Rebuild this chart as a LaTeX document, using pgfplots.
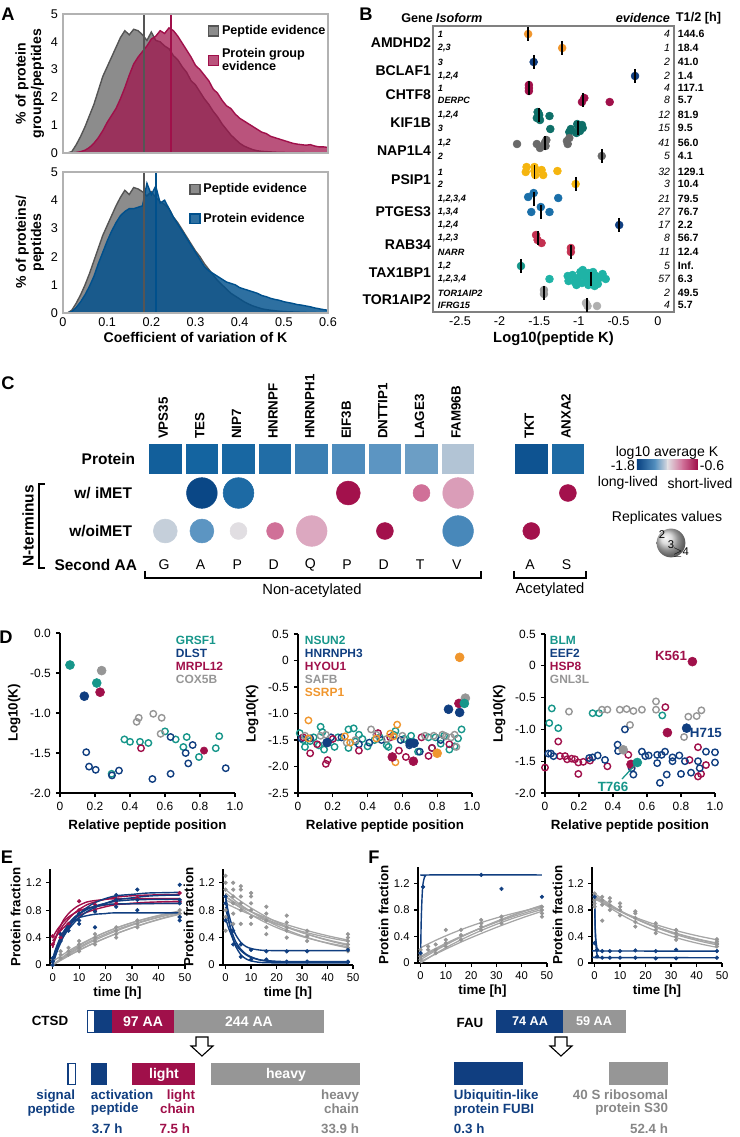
\documentclass[border=0pt]{standalone}
\usepackage{fontspec}
\setmainfont{Liberation Sans}
\usepackage{pgfplots}
\pgfplotsset{compat=1.18}
\newcommand{\fs}[1]{\fontsize{#1}{#1}\selectfont}

\definecolor{pepgray}{RGB}{140,140,140}
\definecolor{pepline}{RGB}{85,85,85}
\definecolor{crim}{RGB}{160,16,74}
\definecolor{blueA}{RGB}{0,80,140}
\definecolor{navy}{RGB}{16,62,128}
\definecolor{tealD}{RGB}{23,150,138}
\definecolor{dteal}{RGB}{14,111,104}
\definecolor{lteal}{RGB}{31,179,166}
\definecolor{orng}{RGB}{240,150,45}
\definecolor{yell}{RGB}{245,181,15}
\definecolor{bluB}{RGB}{26,111,169}
\definecolor{rose}{RGB}{195,48,80}
\definecolor{midgray}{RGB}{150,150,150}
\definecolor{dkgray}{RGB}{105,105,105}
\definecolor{ltgray}{RGB}{175,175,175}
\definecolor{cm0}{RGB}{8,66,130}
\definecolor{cm1}{RGB}{85,145,192}
\definecolor{cm2}{RGB}{225,222,226}
\definecolor{cm3}{RGB}{208,112,152}
\definecolor{cm4}{RGB}{160,12,72}

\pgfplotsset{
  every axis/.append style={/pgf/number format/assume math mode=true},
  dsty/.style={scale only axis, axis x line=bottom, axis y line=left,
    axis line style={line width=0.9pt,-}, tick style={black, line width=0.8pt},
    tick align=outside, major tick length=3pt, xmin=0, xmax=1,
    xtick={0,0.2,0.4,0.6,0.8,1}, xticklabels={0,0.2,0.4,0.6,0.8,1.0},
    ticklabel style={font=\fs{8.5}}, xlabel={Relative peptide position}, ylabel={Log10(K)},
    label style={font=\bfseries\fs{9.5}}, clip=false},
  opn/.style={only marks, mark=o, mark size=2.3pt, mark options={line width=1pt}},
  fil/.style={only marks, mark=*, mark size=3.2pt},
  esty/.style={scale only axis, axis x line=bottom, axis y line=left,
    axis line style={line width=0.9pt,-}, tick style={black, line width=0.8pt},
    tick align=outside, major tick length=2.5pt, xmin=-1, xmax=50, ymin=0, ymax=1.4,
    xtick={0,10,20,30,40,50}, ytick={0,0.4,0.8,1.2}, yticklabels={0,0.4,0.8,1.2},
    ticklabel style={font=\fs{8}}, xlabel={time [h]}, ylabel={Protein fraction},
    label style={font=\bfseries\fs{9.5}}, xlabel style={yshift=3pt}, ylabel style={yshift=-3pt}},
  bl/.style={navy, line width=1pt, smooth, no marks},
  cl/.style={crim, line width=1pt, smooth, no marks},
  gl/.style={midgray!85, line width=0.9pt, smooth, no marks},
  bp/.style={only marks, mark=*, mark size=1.3pt, navy},
  cp/.style={only marks, mark=*, mark size=1.3pt, crim},
  gp/.style={only marks, mark=*, mark size=1.3pt, midgray},
}

\begin{document}
\begin{tikzpicture}
\path[use as bounding box] (0,0) rectangle (185mm,-284.25mm);

% ---------------- A (top)
\begin{axis}[at={(15.75mm,-3.5mm)}, anchor=north west, scale only axis,
  width=66.25mm, height=34.75mm, xmin=0, xmax=0.6, ymin=0, ymax=5,
  axis line style={draw=gray!60, line width=1.8pt}, axis on top,
  xtick=\empty, ytick={0,1,2,3,4,5}, major tick length=0pt,
  yticklabel style={font=\fs{9}},
  ylabel={\% of protein\\groups/peptides},
  ylabel style={font=\bfseries\fontsize{10}{11}\selectfont, align=center, yshift=-2pt},
  legend style={at={(0.53,0.96)}, anchor=north west, draw=none, fill=none,
    font=\bfseries\fontsize{9}{9.5}\selectfont, row sep=4pt, cells={anchor=west, align=left}},
  legend image code/.code={\draw[#1] (0pt,-3.5pt) rectangle (7pt,3.5pt);}]
\addplot[fill=pepgray, draw=pepline, line width=1pt] coordinates {
(0,0) (0.01,0) (0.02,0.05) (0.03,0.3) (0.04,0.6) (0.05,0.95) (0.06,1.35) (0.07,1.75) (0.08,2.25) (0.09,2.75)
(0.10,3.1) (0.11,3.45) (0.12,3.8) (0.13,4.15) (0.14,4.4) (0.15,4.25) (0.16,4.45) (0.17,4.4) (0.18,4.25) (0.19,4.05)
(0.20,4.35) (0.21,4.05) (0.22,4.0) (0.23,3.85) (0.24,3.75) (0.25,3.5) (0.26,3.35) (0.27,3.1) (0.28,2.9) (0.29,2.6)
(0.30,2.45) (0.31,2.2) (0.32,1.95) (0.33,1.75) (0.34,1.5) (0.35,1.3) (0.36,1.05) (0.37,0.85) (0.38,0.65) (0.39,0.5)
(0.40,0.35) (0.41,0.25) (0.42,0.18) (0.43,0.12) (0.44,0.08) (0.45,0.06) (0.46,0.05) (0.48,0.03) (0.50,0.02) (0.55,0.01) (0.60,0)
} \closedcycle;
\addlegendentry{Peptide evidence}
\addplot[fill=crim, fill opacity=0.72, draw=crim, line width=1pt] coordinates {
(0,0) (0.02,0) (0.03,0.02) (0.04,0.05) (0.05,0.1) (0.06,0.2) (0.07,0.35) (0.08,0.55) (0.09,0.8) (0.10,1.1)
(0.11,1.35) (0.12,1.6) (0.13,1.95) (0.14,2.35) (0.15,2.8) (0.16,3.2) (0.17,3.45) (0.18,3.65) (0.19,3.85) (0.20,4.1)
(0.21,4.2) (0.22,4.4) (0.23,4.3) (0.24,4.5) (0.25,4.4) (0.26,4.2) (0.27,3.95) (0.28,3.7) (0.29,3.45) (0.30,3.15)
(0.31,3.0) (0.32,2.8) (0.33,2.6) (0.34,2.3) (0.35,2.15) (0.36,1.9) (0.37,1.7) (0.38,1.6) (0.39,1.4) (0.40,1.25)
(0.41,1.15) (0.42,1.05) (0.43,0.95) (0.44,0.85) (0.45,0.75) (0.46,0.7) (0.47,0.6) (0.48,0.55) (0.49,0.5) (0.50,0.45)
(0.51,0.4) (0.52,0.35) (0.53,0.32) (0.54,0.3) (0.55,0.28) (0.56,0.3) (0.57,0.25) (0.58,0.22) (0.59,0.22) (0.60,0.2)
} \closedcycle;
\addlegendentry{Protein group\\evidence}
\addplot[pepline, line width=1.3pt, forget plot] coordinates {(0.183,0) (0.183,5)};
\addplot[crim, line width=1.3pt, forget plot] coordinates {(0.245,0) (0.245,5)};
\end{axis}

% ---------------- A (bottom)
\begin{axis}[at={(15.75mm,-43mm)}, anchor=north west, scale only axis,
  width=66.25mm, height=35.25mm, xmin=0, xmax=0.6, ymin=0, ymax=5,
  axis line style={draw=gray!60, line width=1.8pt}, axis on top,
  xtick={0,0.1,0.2,0.3,0.4,0.5,0.6}, xticklabels={0,0.1,0.2,0.3,0.4,0.5,0.6},
  ytick={0,1,2,3,4,5}, major tick length=0pt,
  ticklabel style={font=\fs{9}},
  ylabel={\% of proteins/\\peptides},
  ylabel style={font=\bfseries\fontsize{10}{11}\selectfont, align=center, yshift=-2pt},
  xlabel={Coefficient of variation of K},
  xlabel style={font=\bfseries\fs{10}, yshift=3pt},
  legend style={at={(0.46,0.96)}, anchor=north west, draw=none, fill=none,
    font=\bfseries\fs{9}, row sep=9pt, cells={anchor=west}},
  legend image code/.code={\draw[#1] (0pt,-3.5pt) rectangle (7pt,3.5pt);}]
\addplot[fill=pepgray, draw=pepline, line width=1pt] coordinates {
(0,0) (0.01,0) (0.02,0.1) (0.03,0.35) (0.04,0.65) (0.05,1.0) (0.06,1.4) (0.07,1.85) (0.08,2.3) (0.09,2.75)
(0.10,3.1) (0.11,3.45) (0.12,3.8) (0.13,4.1) (0.14,4.35) (0.15,4.2) (0.16,4.45) (0.17,4.4) (0.18,4.3) (0.19,4.15)
(0.20,4.3) (0.21,4.1) (0.22,3.95) (0.23,3.85) (0.24,3.7) (0.25,3.4) (0.26,3.2) (0.27,2.95) (0.28,2.7) (0.29,2.45)
(0.30,2.2) (0.31,2.0) (0.32,1.75) (0.33,1.55) (0.34,1.35) (0.35,1.15) (0.36,1.0) (0.37,0.85) (0.38,0.7) (0.39,0.6)
(0.40,0.5) (0.41,0.4) (0.42,0.32) (0.43,0.25) (0.44,0.2) (0.45,0.15) (0.46,0.12) (0.48,0.08) (0.50,0.05) (0.55,0.02) (0.60,0)
} \closedcycle;
\addlegendentry{Peptide evidence}
\addplot[fill=blueA, fill opacity=0.82, draw=blueA, line width=1pt] coordinates {
(0,0) (0.01,0) (0.02,0.05) (0.03,0.2) (0.04,0.4) (0.05,0.65) (0.06,0.95) (0.07,1.3) (0.08,1.75) (0.09,2.15)
(0.10,2.55) (0.11,2.9) (0.12,3.2) (0.13,3.45) (0.14,3.6) (0.15,3.7) (0.16,3.7) (0.17,3.75) (0.18,3.8) (0.19,4.6)
(0.20,4.2) (0.21,4.5) (0.22,3.9) (0.23,4.0) (0.24,3.7) (0.25,3.4) (0.26,3.15) (0.27,2.9) (0.28,2.65) (0.29,2.4)
(0.30,2.15) (0.31,1.9) (0.32,1.65) (0.33,1.5) (0.34,1.4) (0.35,1.3) (0.36,1.2) (0.37,1.1) (0.38,1.05) (0.39,1.0)
(0.40,0.9) (0.41,0.85) (0.42,0.8) (0.43,0.75) (0.44,0.7) (0.45,0.62) (0.46,0.58) (0.47,0.52) (0.48,0.48) (0.49,0.45)
(0.50,0.4) (0.51,0.37) (0.52,0.34) (0.53,0.3) (0.54,0.28) (0.55,0.25) (0.56,0.22) (0.57,0.18) (0.58,0.15) (0.59,0.12) (0.60,0.1)
} \closedcycle;
\addlegendentry{Protein evidence}
\addplot[pepline, line width=1.3pt, forget plot] coordinates {(0.183,0) (0.183,5)};
\addplot[blueA, line width=1.3pt, forget plot] coordinates {(0.211,0) (0.211,5)};
\end{axis}

% ---------------- B
\begin{axis}[at={(108.25mm,-6.5mm)}, anchor=north west, scale only axis,
  width=60.25mm, height=71.5mm, xmin=-2.841, xmax=0.202, ymin=26, ymax=312, y dir=reverse,
  axis line style={draw=gray, line width=1.3pt}, ytick=\empty,
  xtick={-2.5,-2,-1.5,-1,-0.5,0}, xticklabels={-2.5,-2,-1.5,-1,-0.5,0},
  major tick length=0pt, xticklabel style={font=\fs{9}},
  xlabel={Log10(peptide K)}, xlabel style={font=\bfseries\fs{10.5}, yshift=3pt}, clip=false]
\addplot[only marks, mark=*, mark size=2.8pt, orng] coordinates {(-1.64,34) (-1.21,48)};
\addplot[only marks, mark=*, mark size=2.8pt, navy] coordinates {(-1.57,62) (-0.29,76) (-0.49,225)};
\addplot[only marks, mark=*, mark size=2.8pt, crim] coordinates {(-1.63,85) (-1.63,88) (-1.63,91) (-0.93,98) (-0.96,102) (-0.61,102)};
\addplot[only marks, mark=*, mark size=2.8pt, dteal] coordinates {(-1.52,112) (-1.50,115) (-1.53,118) (-1.49,120) (-1.51,113) (-1.37,116)
 (-1.36,129) (-1.10,129) (-1.02,124) (-0.96,125) (-0.985,131) (-1.03,133) (-0.95,128) (-1.12,132) (-1.0,127)};
\addplot[only marks, mark=*, mark size=2.8pt, dkgray] coordinates {(-1.78,144) (-1.53,144) (-1.49,148) (-1.41,140) (-1.42,146) (-1.43,143)
 (-1.15,141) (-1.12,138) (-1.14,144) (-0.71,156)};
\addplot[only marks, mark=*, mark size=2.8pt, yell] coordinates {(-1.66,167) (-1.67,172) (-1.56,171) (-1.55,175) (-1.47,170) (-1.45,175)
 (-1.27,171) (-1.56,167) (-1.04,184)};
\addplot[only marks, mark=*, mark size=2.8pt, bluB] coordinates {(-1.64,197) (-1.57,193) (-1.26,198) (-1.60,212) (-1.48,207) (-1.37,212)};
\addplot[only marks, mark=*, mark size=2.8pt, rose] coordinates {(-1.54,235) (-1.52,240) (-1.47,243) (-1.10,248) (-1.10,252)};
\addplot[only marks, mark=*, mark size=2.8pt, tealD] coordinates {(-1.73,266)};
\addplot[only marks, mark=*, mark size=2.8pt, lteal] coordinates {(-1.37,279) (-1.14,276) (-1.13,281) (-1.08,275) (-1.05,282) (-1.01,278)
 (-0.98,272) (-0.96,283) (-0.93,276) (-0.90,280) (-0.88,273) (-0.86,283) (-0.84,277) (-0.82,272) (-0.80,281) (-0.78,276)
 (-0.76,284) (-0.74,278) (-0.70,274) (-0.66,279) (-0.88,285) (-0.95,270) (-0.80,286) (-1.03,285) (-0.90,276)};
\addplot[only marks, mark=*, mark size=2.8pt, midgray] coordinates {(-1.44,290) (-1.44,294)};
\addplot[only marks, mark=*, mark size=2.8pt, ltgray] coordinates {(-0.91,303) (-0.89,306) (-0.77,306)};
\addplot[only marks, mark=|, mark size=5pt, mark options={line width=1.3pt, black}] coordinates {
(-1.64,34) (-1.21,48) (-1.57,62) (-0.29,76) (-1.63,88) (-0.95,100) (-1.50,115) (-1.01,128) (-1.43,143) (-0.71,156)
(-1.56,172) (-1.04,184) (-1.57,199) (-1.48,212) (-0.49,225) (-1.52,238) (-1.10,252) (-1.73,266) (-0.85,279) (-1.44,293) (-0.90,305)};
\end{axis}

% ---------------- C
\begin{axis}[at={(36.75mm,-107.5mm)}, anchor=north west, scale only axis,
  width=109.8mm, height=37.5mm, xmin=0.5, xmax=12.5, ymin=430, ymax=580, y dir=reverse,
  hide axis, clip=false,
  colormap={lk}{rgb255(0cm)=(8,66,130); rgb255(2cm)=(20,100,160); rgb255(3.5cm)=(85,145,192);
    rgb255(5cm)=(185,200,215); rgb255(6cm)=(225,222,226); rgb255(7.5cm)=(220,168,192);
    rgb255(9cm)=(208,112,152); rgb255(10.5cm)=(180,50,105); rgb255(12cm)=(160,12,72)},
  point meta min=-1.8, point meta max=-0.6]
\addplot[scatter, only marks, mark=square*, mark size=12.2pt, point meta=explicit,
  scatter/use mapped color={draw=white, fill=mapped color},
  mark options={line width=1.2pt, yscale=0.93}] table[x=x, y=y, meta=c] {
x y c
1 459 -1.63
2 459 -1.60
3 459 -1.59
4 459 -1.57
5 459 -1.51
6 459 -1.465
7 459 -1.44
8 459 -1.415
9 459 -1.31
11 459 -1.70
12 459 -1.58
};
\addplot[scatter, only marks, mark=*, point meta=explicit,
  scatter/use mapped color={draw=mapped color, fill=mapped color},
  visualization depends on={\thisrow{r}\as\rsize},
  scatter/@pre marker code/.append style={/tikz/mark size=\rsize pt}] table[x=x, y=y, meta=c] {
x y c r
2 493 -1.77 10.9
3 493 -1.58 10.9
6 493 -0.62 8.5
8 493 -0.90 6.0
9 493 -1.02 10.9
12 493 -0.62 6.0
1 531 -1.27 8.5
2 531 -1.44 8.5
3 531 -1.20 6.0
4 531 -0.90 6.0
5 531 -1.05 10.9
7 531 -0.62 6.0
9 531 -1.48 10.9
11 531 -0.62 6.0
};
\end{axis}

% ---------------- D
\begin{axis}[dsty, at={(15mm,-158.25mm)}, anchor=north west, width=43.75mm, height=40mm,
  ymin=-2, ymax=0, ytick={-2,-1.5,-1,-0.5,0}, yticklabels={-2.0,-1.5,-1.0,-0.5,0.0}]
\addplot[opn, tealD] coordinates {(0.295,-1.76) (0.368,-1.33) (0.40,-1.36) (0.457,-1.36) (0.505,-1.375) (0.60,-1.23) (0.661,-1.33) (0.724,-1.30) (0.705,-1.425) (0.794,-1.55) (0.89,-1.44) (0.91,-1.29)};
\addplot[opn, navy] coordinates {(0.15,-1.49) (0.166,-1.67) (0.204,-1.71) (0.297,-1.78) (0.337,-1.72) (0.528,-1.825) (0.632,-1.30) (0.632,-1.76) (0.718,-1.50) (0.733,-1.63) (0.758,-1.40) (0.947,-1.69)};
\addplot[opn, crim] coordinates {(0.463,-1.44)};
\addplot[opn, midgray] coordinates {(0.438,-1.11) (0.45,-1.06) (0.533,-1.01) (0.581,-1.06) (0.575,-1.26)};
\addplot[fil, tealD] coordinates {(0.057,-0.40) (0.21,-0.625)};
\addplot[fil, navy] coordinates {(0.139,-0.79)};
\addplot[fil, crim] coordinates {(0.229,-0.74)};
\addplot[only marks, mark=*, mark size=2.6pt, crim] coordinates {(0.823,-1.47)};
\addplot[fil, midgray] coordinates {(0.238,-0.47)};
\end{axis}

\begin{axis}[dsty, at={(74.5mm,-158.5mm)}, anchor=north west, width=43.5mm, height=39.75mm,
  ymin=-2.5, ymax=0.5, ytick={-2.5,-2,-1.5,-1,-0.5,0,0.5}, yticklabels={-2.5,-2.0,-1.5,-1.0,-0.5,0,0.5}]
\addplot[opn, tealD] coordinates {(0.01,-1.37) (0.03,-1.5) (0.04,-1.63) (0.07,-1.52) (0.09,-1.45) (0.12,-1.6) (0.13,-1.25) (0.14,-1.35) (0.15,-1.68) (0.21,-1.63) (0.23,-1.45) (0.29,-1.65) (0.29,-1.3) (0.32,-1.28) (0.33,-1.53) (0.35,-1.4) (0.37,-1.48) (0.40,-1.62) (0.44,-1.5) (0.47,-1.45) (0.51,-1.6) (0.52,-1.63) (0.55,-1.4) (0.56,-1.33) (0.61,-1.48) (0.65,-1.42) (0.69,-1.72) (0.75,-1.45) (0.77,-1.65) (0.79,-1.45) (0.82,-1.57) (0.84,-1.42) (0.87,-1.68) (0.90,-1.62) (0.92,-1.47) (0.94,-1.3)};
\addplot[opn, navy] coordinates {(0.02,-1.47) (0.07,-1.47) (0.19,-1.45) (0.25,-1.45) (0.35,-1.58) (0.41,-1.55) (0.48,-1.5) (0.59,-1.5) (0.64,-1.6) (0.70,-1.72) (0.82,-1.5)};
\addplot[opn, crim] coordinates {(0.03,-1.45) (0.07,-1.75) (0.11,-1.58) (0.16,-1.95) (0.17,-1.88) (0.20,-1.48) (0.35,-1.7) (0.46,-1.37) (0.53,-1.45) (0.58,-1.7) (0.62,-1.82) (0.71,-1.45) (0.75,-1.8) (0.77,-1.65) (0.87,-1.58)};
\addplot[opn, midgray] coordinates {(0.04,-1.42) (0.13,-1.42) (0.16,-1.4) (0.28,-1.55) (0.33,-1.5) (0.42,-1.3) (0.45,-1.4) (0.51,-1.48) (0.60,-1.42) (0.73,-1.42) (0.78,-1.42) (0.83,-1.4) (0.85,-1.43) (0.88,-1.45) (0.90,-1.4) (0.91,-1.63)};
\addplot[opn, orng] coordinates {(0.06,-1.13) (0.06,-1.47) (0.27,-1.43) (0.30,-1.55) (0.45,-1.47) (0.53,-1.38) (0.57,-1.21) (0.56,-1.92) (0.55,-1.43)};
\addplot[fil, orng] coordinates {(0.929,0.06) (0.80,-1.75)};
\addplot[fil, navy] coordinates {(0.865,-0.92) (0.929,-0.98) (0.167,-1.55) (0.644,-1.56) (0.667,-1.56)};
\addplot[fil, crim] coordinates {(0.925,-0.81) (0.542,-1.82) (0.663,-1.90)};
\addplot[fil, midgray] coordinates {(0.962,-0.71)};
\addplot[fil, tealD] coordinates {(0.956,-0.81)};
\end{axis}

\begin{axis}[dsty, at={(136.25mm,-158.5mm)}, anchor=north west, width=42.5mm, height=39.75mm,
  ymin=-2, ymax=0.5, ytick={-2,-1.5,-1,-0.5,0,0.5}, yticklabels={-2.0,-1.5,-1.0,-0.5,0,0.5}]
\addplot[opn, tealD] coordinates {(0.025,-0.90) (0.04,-0.67) (0.078,-0.98) (0.28,-0.745) (0.318,-0.745) (0.69,-0.78)};
\addplot[opn, midgray] coordinates {(0.141,-0.72) (0.335,-0.69) (0.367,-0.69) (0.44,-0.69) (0.48,-0.68) (0.52,-0.71) (0.57,-0.69) (0.653,-0.56) (0.653,-0.69) (0.5,-0.93) (0.818,-1.12) (0.843,-0.80) (0.892,-0.79) (0.92,-0.70)};
\addplot[opn, crim] coordinates {(0,-1.60) (0.078,-1.19) (0.088,-1.42) (0.118,-1.42) (0.13,-1.47) (0.157,-1.46) (0.176,-1.47) (0.196,-1.52) (0.225,-1.51) (0.265,-1.49) (0.196,-1.70) (0.367,-1.58) (0.49,-1.40) (0.708,-0.65) (0.85,-1.48) (0.90,-1.28) (0.90,-1.74) (0.918,-1.70) (0.947,-1.56)};
\addplot[opn, navy] coordinates {(0.02,-1.38) (0.035,-1.38) (0.05,-1.42) (0.26,-1.45) (0.28,-1.44) (0.31,-1.41) (0.353,-1.48) (0.427,-1.24) (0.43,-1.34) (0.47,-1.0) (0.51,-1.61) (0.52,-1.71) (0.57,-1.35) (0.59,-1.42) (0.61,-1.41) (0.66,-1.40) (0.66,-1.53) (0.676,-1.84) (0.686,-1.40) (0.706,-1.35) (0.716,-1.71) (0.75,-1.44) (0.75,-1.50) (0.79,-1.41) (0.80,-1.70) (0.823,-1.50) (0.859,-1.68) (0.9,-1.50) (0.91,-1.61) (0.947,-1.35) (1.0,-1.36) (1.0,-1.52)};
\addplot[fil, crim] coordinates {(0.867,0.066) (0.72,-1.05) (0.506,-1.55)};
\addplot[fil, navy] coordinates {(0.833,-0.98)};
\addplot[fil, midgray] coordinates {(0.46,-1.32)};
\addplot[fil, tealD] coordinates {(0.543,-1.52)};
\end{axis}

% ---------------- E (left)
\begin{axis}[esty, at={(12.5mm,-217.25mm)}, anchor=north west, width=33.75mm, height=24mm]
\addplot[gl] coordinates {(0,0) (6,0.136) (12,0.256) (18,0.362) (24,0.457) (30,0.541) (36,0.616) (42,0.682) (48,0.740)};
\addplot[gl] coordinates {(0,0) (6,0.165) (12,0.302) (18,0.417) (24,0.513) (30,0.593) (36,0.66) (42,0.716) (48,0.763)};
\addplot[gl] coordinates {(0,0) (6,0.153) (12,0.285) (18,0.398) (24,0.496) (30,0.581) (36,0.652) (42,0.715) (48,0.769)};
\addplot[gl] coordinates {(0,0) (6,0.18) (12,0.326) (18,0.444) (24,0.54) (30,0.618) (36,0.68) (42,0.732) (48,0.773)};
\addplot[gl] coordinates {(0,0) (6,0.133) (12,0.252) (18,0.36) (24,0.456) (30,0.542) (36,0.62) (42,0.689) (48,0.751)};
\addplot[gl] coordinates {(0,0.05) (6,0.205) (12,0.335) (18,0.446) (24,0.539) (30,0.618) (36,0.685) (42,0.741) (48,0.789)};
\addplot[gp] coordinates {(0,0) (0,0.05) (0,0.08) (3,0.1) (3,0.15) (3,0.2) (6,0.15) (6,0.2) (6,0.25) (10,0.2) (10,0.25) (10,0.3) (10,0.35) (16,0.3) (16,0.35) (16,0.4) (16,0.45) (24,0.4) (24,0.45) (24,0.5) (24,0.55) (32,0.55) (32,0.6) (32,0.65) (48,0.7) (48,0.75) (48,0.8)};
\addplot[cl] coordinates {(0,0.30) (1,0.38) (2,0.46) (3,0.52) (4,0.58) (6,0.67) (8,0.75) (10,0.81) (13,0.88) (16,0.92) (20,0.96) (24,0.99) (30,1.01) (36,1.02) (48,1.03)};
\addplot[cl] coordinates {(0,0.40) (1,0.47) (2,0.53) (3,0.58) (4,0.63) (6,0.70) (8,0.75) (10,0.79) (13,0.83) (16,0.85) (20,0.875) (24,0.886) (30,0.895) (48,0.90)};
\addplot[cl] coordinates {(0,0.25) (1,0.38) (2,0.49) (3,0.57) (4,0.65) (6,0.75) (8,0.82) (10,0.87) (13,0.92) (16,0.94) (20,0.957) (24,0.965) (48,0.97)};
\addplot[cl] coordinates {(0,0.35) (1,0.405) (2,0.455) (3,0.50) (4,0.54) (6,0.61) (8,0.67) (10,0.72) (13,0.77) (16,0.81) (20,0.85) (24,0.88) (30,0.90) (36,0.915) (48,0.93)};
\addplot[bl] coordinates {(0,0) (1,0.12) (2,0.23) (3,0.32) (4,0.41) (6,0.54) (8,0.65) (10,0.74) (13,0.84) (16,0.91) (20,0.97) (24,1.01) (30,1.03) (36,1.05) (42,1.055) (48,1.06)};
\addplot[bl] coordinates {(0,0.05) (1,0.17) (2,0.27) (3,0.36) (4,0.44) (6,0.57) (8,0.66) (10,0.74) (13,0.81) (16,0.86) (20,0.90) (24,0.93) (30,0.95) (36,0.955) (48,0.96)};
\addplot[bl] coordinates {(0,0.08) (1,0.22) (2,0.32) (3,0.41) (4,0.48) (6,0.58) (8,0.64) (10,0.69) (13,0.72) (16,0.74) (20,0.75) (24,0.76) (48,0.76)};
\addplot[bl] coordinates {(0,0.02) (1,0.17) (2,0.29) (3,0.39) (4,0.47) (6,0.60) (8,0.69) (10,0.75) (13,0.82) (16,0.85) (20,0.88) (24,0.89) (48,0.90)};
\addplot[bl] coordinates {(0,0.10) (1,0.19) (2,0.27) (3,0.34) (4,0.41) (6,0.52) (8,0.61) (10,0.69) (13,0.78) (16,0.84) (20,0.90) (24,0.95) (30,0.98) (36,1.005) (42,1.016) (48,1.02)};
\addplot[cp] coordinates {(0,0.3) (0,0.42) (3,0.45) (3,0.4) (6,0.6) (10,0.93) (10,0.8) (16,0.8) (16,0.88) (24,0.95) (24,0.9) (32,0.98) (48,1.05) (48,0.92)};
\addplot[bp] coordinates {(0,0) (0,0.05) (0,0.1) (3,0.35) (3,0.45) (6,0.55) (6,0.5) (10,0.6) (10,0.65) (10,0.75) (16,0.55) (16,0.78) (16,0.85) (24,0.85) (24,0.95) (24,1.02) (32,0.8) (32,0.95) (32,1.1) (48,0.65) (48,0.7) (48,0.9) (48,0.95) (48,1.17)};
\end{axis}

% ---------------- E (right)
\begin{axis}[esty, at={(55.75mm,-217.25mm)}, anchor=north west, width=32.5mm, height=24mm]
\addplot[gp] coordinates {(0,0.5) (0,0.7) (0,0.8) (0,0.9) (0,1.0) (0,1.1) (0,1.2) (0,1.3) (3,0.6) (3,0.75) (3,0.9) (3,1.0) (3,1.1) (3,1.2) (6,0.6) (6,0.8) (6,0.9) (6,1.0) (6,1.1) (6,1.15) (10,0.6) (10,0.7) (10,0.8) (10,0.9) (10,1.0) (10,1.05) (16,0.45) (16,0.55) (16,0.65) (16,0.75) (16,0.85) (24,0.4) (24,0.5) (24,0.55) (24,0.62) (24,0.72) (32,0.35) (32,0.42) (32,0.5) (48,0.2) (48,0.25) (48,0.3) (48,0.35) (48,0.4) (48,0.45)};
\addplot[gl] coordinates {(0,1.0) (4,0.905) (8,0.819) (12,0.741) (16,0.670) (20,0.607) (24,0.549) (30,0.472) (36,0.407) (42,0.35) (48,0.301)};
\addplot[gl] coordinates {(0,1.05) (4,0.931) (8,0.826) (12,0.733) (16,0.650) (20,0.576) (24,0.511) (30,0.427) (36,0.357) (42,0.298) (48,0.249)};
\addplot[gl] coordinates {(0,0.95) (4,0.877) (8,0.809) (12,0.748) (16,0.69) (20,0.637) (24,0.588) (30,0.522) (36,0.463) (42,0.41) (48,0.364)};
\addplot[gl] coordinates {(0,1.0) (4,0.882) (8,0.780) (12,0.691) (16,0.614) (20,0.547) (24,0.489) (30,0.415) (36,0.356) (42,0.307) (48,0.267)};
\addplot[gl] coordinates {(0,1.1) (4,0.983) (8,0.879) (12,0.787) (16,0.703) (20,0.628) (24,0.562) (30,0.475) (36,0.402) (42,0.34) (48,0.287)};
\addplot[gl] coordinates {(0,0.9) (4,0.829) (8,0.763) (12,0.703) (16,0.648) (20,0.597) (24,0.552) (30,0.489) (36,0.435) (42,0.387) (48,0.346)};
\addplot[bl] coordinates {(0,1.0) (1,0.79) (2,0.64) (3,0.53) (4,0.44) (6,0.33) (8,0.27) (10,0.24) (13,0.22) (16,0.212) (24,0.21) (48,0.21)};
\addplot[bl] coordinates {(0,1.0) (1,0.71) (2,0.51) (3,0.37) (4,0.27) (6,0.15) (8,0.09) (10,0.06) (13,0.04) (16,0.034) (24,0.03) (48,0.03)};
\addplot[bl] coordinates {(0,0.85) (1,0.67) (2,0.54) (3,0.43) (4,0.34) (6,0.23) (8,0.16) (10,0.12) (13,0.08) (16,0.065) (24,0.05) (48,0.05)};
\addplot[bl] coordinates {(0,0.69) (1,0.56) (2,0.46) (3,0.37) (4,0.30) (6,0.21) (8,0.15) (10,0.11) (13,0.077) (16,0.059) (24,0.043) (48,0.04)};
\addplot[bp] coordinates {(0,1.0) (0,0.9) (0,0.65) (3,0.5) (3,0.3) (6,0.3) (6,0.12) (10,0.22) (10,0.08) (16,0.2) (16,0.08) (24,0.2) (24,0.05) (32,0.2) (32,0.05) (48,0.22) (48,0.05) (48,0.04)};
\end{axis}

% ---------------- F (left)
\begin{axis}[esty, ymax=1.45, at={(104.5mm,-216.75mm)}, anchor=north west, width=32.25mm, height=24mm]
\addplot[gp] coordinates {(0,0.05) (0,0.1) (0,0.15) (0,0.2) (3,0.2) (3,0.25) (6,0.15) (6,0.2) (6,0.28) (10,0.25) (10,0.3) (10,0.35) (10,0.5) (16,0.35) (16,0.42) (16,0.5) (24,0.5) (24,0.55) (24,0.6) (24,0.65) (32,0.6) (32,0.65) (32,0.7) (48,0.7) (48,0.75) (48,0.8) (48,0.85)};
\addplot[gl] coordinates {(0,0.05) (6,0.188) (12,0.314) (18,0.429) (24,0.533) (30,0.629) (36,0.717) (42,0.797) (48,0.871)};
\addplot[gl] coordinates {(0,0.02) (6,0.136) (12,0.246) (18,0.35) (24,0.446) (30,0.538) (36,0.624) (42,0.706) (48,0.782)};
\addplot[gl] coordinates {(0,0) (6,0.143) (12,0.272) (18,0.388) (24,0.491) (30,0.584) (36,0.668) (42,0.742) (48,0.809)};
\addplot[gl] coordinates {(0,0.23) (6,0.343) (12,0.443) (18,0.532) (24,0.611) (30,0.681) (36,0.743) (42,0.798) (48,0.847)};
\addplot[gl] coordinates {(0,0.08) (6,0.204) (12,0.321) (18,0.429) (24,0.53) (30,0.624) (36,0.712) (42,0.793) (48,0.868)};
\addplot[gl] coordinates {(0,0.1) (6,0.221) (12,0.333) (18,0.435) (24,0.528) (30,0.615) (36,0.694) (42,0.766) (48,0.834)};
\addplot[bl] coordinates {(0,0.05) (0.25,0.6) (0.5,0.9) (0.75,1.1) (1,1.2) (1.5,1.29) (2,1.32) (3,1.33) (48,1.33)};
\addplot[bp] coordinates {(0,0.15) (1,1.15) (24,1.33) (32,1.12) (48,1.0)};
\end{axis}

% ---------------- F (right)
\begin{axis}[esty, ymax=1.45, at={(148mm,-216.75mm)}, anchor=north west, width=32.5mm, height=24mm]
\addplot[gp] coordinates {(0,0.85) (0,0.9) (0,0.95) (0,1.0) (0,1.05) (3,0.64) (3,0.88) (3,0.95) (3,1.0) (6,0.8) (6,0.87) (6,0.93) (6,0.98) (10,0.72) (10,0.8) (10,0.85) (10,0.9) (16,0.55) (16,0.62) (16,0.68) (16,0.75) (16,0.78) (24,0.45) (24,0.5) (24,0.55) (24,0.6) (32,0.35) (32,0.4) (32,0.45) (32,0.5) (48,0.25) (48,0.28) (48,0.3) (48,0.33) (48,0.36)};
\addplot[gl] coordinates {(0,1.0) (4,0.905) (8,0.819) (12,0.741) (16,0.670) (20,0.607) (24,0.549) (30,0.472) (36,0.407) (42,0.35) (48,0.301)};
\addplot[gl] coordinates {(0,1.05) (4,0.939) (8,0.839) (12,0.751) (16,0.671) (20,0.6) (24,0.537) (30,0.454) (36,0.383) (42,0.324) (48,0.274)};
\addplot[gl] coordinates {(0,0.97) (4,0.89) (8,0.817) (12,0.75) (16,0.688) (20,0.632) (24,0.581) (30,0.511) (36,0.45) (42,0.397) (48,0.351)};
\addplot[gl] coordinates {(0,1.0) (4,0.887) (8,0.787) (12,0.698) (16,0.619) (20,0.549) (24,0.487) (30,0.407) (36,0.34) (42,0.284) (48,0.237)};
\addplot[gl] coordinates {(0,1.02) (4,0.919) (8,0.828) (12,0.747) (16,0.673) (20,0.607) (24,0.547) (30,0.467) (36,0.40) (42,0.343) (48,0.293)};
\addplot[bl] coordinates {(0,1.0) (0.25,0.57) (0.5,0.36) (1,0.22) (1.5,0.19) (2,0.182) (48,0.18)};
\addplot[bl] coordinates {(0,1.0) (0.25,0.51) (0.5,0.285) (1,0.126) (1.5,0.09) (2,0.082) (48,0.08)};
\addplot[bp] coordinates {(0,1.0) (0,0.3) (1,0.2) (1,0.1) (3,0.18) (3,0.08) (6,0.18) (6,0.08) (10,0.18) (10,0.08) (16,0.19) (16,0.08) (24,0.18) (24,0.07) (32,0.2) (32,0.07) (48,0.18) (48,0.08)};
\end{axis}

% ---------------- annotations (pixel grid of the reference)
\begin{scope}[x=0.25mm, y=-0.25mm, every node/.style={inner sep=0pt, outer sep=0pt}]
\node[font=\bfseries\fs{13}] at (8,14) {A};
\node[font=\bfseries\fs{13}] at (366,14) {B};
\node[font=\bfseries\fs{13}] at (8,383) {C};
\node[font=\bfseries\fs{13}] at (6,637) {D};
\node[font=\bfseries\fs{13}] at (7,857) {E};
\node[font=\bfseries\fs{13}] at (374,857) {F};

% B table text
\node[anchor=east, font=\bfseries\fs{9}] at (433,18) {Gene};
\node[anchor=west, font=\bfseries\itshape\fs{9}] at (436,18) {Isoform};
\node[anchor=east, font=\bfseries\itshape\fs{9}] at (670,18) {evidence};
\node[anchor=west, font=\bfseries\fs{9}] at (676,18) {T1/2 [h]};
\foreach \yy/\g in {43/AMDHD2, 71/BCLAF1, 95/CHTF8, 123/KIF1B, 151/NAP1L4, 180/PSIP1, 212/PTGES3, 245/RAB34, 273/TAX1BP1, 300/TOR1AIP2}
  \node[anchor=east, font=\bfseries\fs{10}] at (431,\yy) {\g};
\foreach \yy/\iso/\ev/\th in {34/1/4/144.6, 48/{2,3}/1/18.4, 62/3/2/41.0, 76/{1,2,4}/2/1.4, 88/1/4/117.1, 100/DERPC/8/5.7,
  115/{1,2,4}/12/81.9, 128/3/15/9.5, 143/{1,2}/41/56.0, 156/2/5/4.1, 172/1/32/129.1, 184/2/3/10.4,
  199/{1,2,3,4}/21/79.5, 212/{1,3,4}/27/76.7, 225/{1,2,4}/17/2.2, 238/{1,2,3}/8/56.7, 252/NARR/11/12.4,
  266/{1,2}/5/Inf., 279/{1,2,3,4}/57/6.3, 293/TOR1AIP2/2/49.5, 305/IFRG15/4/5.7}{
  \node[anchor=west, font=\bfseries\itshape\fs{6.5}] at (438,\yy) {\iso};
  \node[anchor=east, font=\itshape\fs{7.5}] at (670,\yy) {\ev};
  \node[anchor=west, font=\bfseries\fs{7.5}] at (678,\yy) {\th};
}

% C text
\foreach \i/\g in {1/VPS35,2/TES,3/NIP7,4/HNRNPF,5/HNRNPH1,6/EIF3B,7/DNTTIP1,8/LAGE3,9/FAM96B,11/TKT,12/ANXA2}
  \node[rotate=90, anchor=west, font=\bfseries\fs{9.5}] at ({163.3+(\i-1)*36.6},439) {\g};
\foreach \i/\a in {1/G,2/A,3/P,4/D,5/Q,6/P,7/D,8/T,9/V,11/A,12/S}
  \node[font=\fs{10}] at ({164+(\i-1)*36.6},565) {\a};
\node[anchor=east, font=\bfseries\fs{11}] at (135,459) {Protein};
\node[anchor=east, font=\bfseries\fs{11}] at (132,493) {w/ iMET};
\node[anchor=east, font=\bfseries\fs{11}] at (132,531) {w/oiMET};
\node[anchor=east, font=\bfseries\fs{11}] at (137,565) {Second AA};
\node[rotate=90, font=\bfseries\fs{11}] at (28,526) {N-terminus};
\draw[line width=1.2pt] (45,484) -- (39,484) -- (39,568) -- (45,568);
\draw[line width=1.2pt] (145,571) -- (145,578) -- (481,578) -- (481,571);
\draw[line width=1.2pt] (514,571) -- (514,578) -- (586,578) -- (586,571);
\node[font=\fs{10.5}] at (312,591) {Non-acetylated};
\node[font=\fs{10.5}] at (550,590) {Acetylated};
\node[font=\fs{10}] at (667,453) {log10 average K};
\shade[left color=cm0, right color=cm1] (637,460) rectangle (655.5,470);
\shade[left color=cm1, right color=cm2] (655,460) rectangle (668,470);
\shade[left color=cm2, right color=cm3] (667.5,460) rectangle (683,470);
\shade[left color=cm3, right color=cm4] (682.5,460) rectangle (698,470);
\node[anchor=east, font=\fs{10}] at (635,466) {-1.8};
\node[anchor=west, font=\fs{10}] at (700,466) {-0.6};
\node[font=\fs{10}] at (628,483) {long-lived};
\node[font=\fs{10}] at (700,483) {short-lived};
\node[font=\fs{10}] at (667,518) {Replicates values};
\shade[ball color=gray!35] (671,543) circle (3.6mm);
\node[font=\fs{8}] at (662,535) {2};
\node[font=\fs{8}] at (671,545) {3};
\node[font=\fs{8}] at (681,553) {$\geq$4};

% D text
\foreach \t/\c/\yy in {GRSF1/tealD/640, DLST/navy/653, MRPL12/crim/666, COX5B/midgray/679}
  \node[anchor=west, font=\bfseries\fs{8.5}, text=\c] at (176,\yy) {\t};
\foreach \t/\c/\yy in {NSUN2/tealD/640, HNRNPH3/navy/653, HYOU1/crim/666, SAFB/midgray/679, SSRP1/orng/692}
  \node[anchor=west, font=\bfseries\fs{8.5}, text=\c] at (305,\yy) {\t};
\foreach \t/\c/\yy in {BLM/tealD/640, EEF2/navy/653, HSP8/crim/666, GNL3L/midgray/679}
  \node[anchor=west, font=\bfseries\fs{8.5}, text=\c] at (550,\yy) {\t};
\node[anchor=east, font=\bfseries\fs{9.5}, text=crim] at (687,656) {K561};
\node[anchor=west, font=\bfseries\fs{9.5}, text=navy] at (690,733) {H715};
\node[font=\bfseries\fs{9.5}, text=tealD] at (613,787) {T766};
\draw[tealD, line width=0.9pt] (622,779) -- (636,764);

% E sequence diagram
\node[font=\bfseries\fs{9.5}] at (50,1021) {CTSD};
\draw[navy, line width=0.9pt, fill=white] (87.5,1010.5) rectangle (95,1032.5);
\fill[navy] (95,1010) rectangle (112,1033);
\fill[crim] (112,1010) rectangle (174,1033);
\fill[midgray] (174,1010) rectangle (324,1033);
\node[font=\bfseries\fs{10}, text=white] at (143,1021.5) {97 AA};
\node[font=\bfseries\fs{10}, text=white] at (249,1021.5) {244 AA};
\draw[line width=0.8pt, fill=white] (196,1037) -- (208,1037) -- (208,1046) -- (213,1046) -- (202,1056) -- (191,1046) -- (196,1046) -- cycle;
\draw[navy, line width=0.9pt, fill=white] (68,1063.5) rectangle (75.5,1084.5);
\fill[navy] (91,1063) rectangle (107,1085);
\fill[crim] (132,1063) rectangle (195,1085);
\fill[midgray] (211,1063) rectangle (360,1085);
\node[font=\bfseries\fs{10}, text=white] at (164,1074.5) {light};
\node[font=\bfseries\fs{10}, text=white] at (286,1074.5) {heavy};
\tikzset{lab/.style={font=\bfseries\fontsize{9.5}{8.8}\selectfont}}
\node[lab, anchor=north east, align=right, text=navy] at (75,1090) {signal\\peptide};
\node[lab, anchor=north west, align=left, text=navy] at (91,1090) {activation\\peptide};
\node[lab, anchor=north east, align=right, text=crim] at (195,1090) {light\\chain};
\node[lab, anchor=north east, align=right, text=midgray!90!black] at (359,1090) {heavy\\chain};
\node[lab, anchor=west, text=navy] at (92,1129) {3.7 h};
\node[lab, anchor=east, text=crim] at (190,1129) {7.5 h};
\node[lab, anchor=east, text=midgray!90!black] at (359,1129) {33.9 h};

% F sequence diagram
\node[font=\bfseries\fs{9.5}] at (470,1023) {FAU};
\fill[navy] (496,1010) rectangle (563,1033);
\fill[midgray] (563,1010) rectangle (626,1033);
\node[font=\bfseries\fs{9}, text=white] at (530,1021.5) {74 AA};
\node[font=\bfseries\fs{9}, text=white] at (594,1021.5) {59 AA};
\draw[line width=0.8pt, fill=white] (555,1037) -- (567,1037) -- (567,1046) -- (572,1046) -- (561,1056) -- (550,1046) -- (555,1046) -- cycle;
\fill[navy] (454,1062) rectangle (523,1085);
\fill[midgray] (609,1062) rectangle (668,1085);
\node[lab, anchor=north west, align=left, text=navy] at (454,1090) {Ubiquitin-like\\protein FUBI};
\node[lab, anchor=west, text=navy] at (454,1129) {0.3 h};
\node[lab, anchor=north east, align=right, text=midgray!90!black] at (668,1090) {40 S ribosomal\\protein S30};
\node[lab, anchor=east, text=midgray!90!black] at (668,1129) {52.4 h};
\end{scope}
\end{tikzpicture}
\end{document}
